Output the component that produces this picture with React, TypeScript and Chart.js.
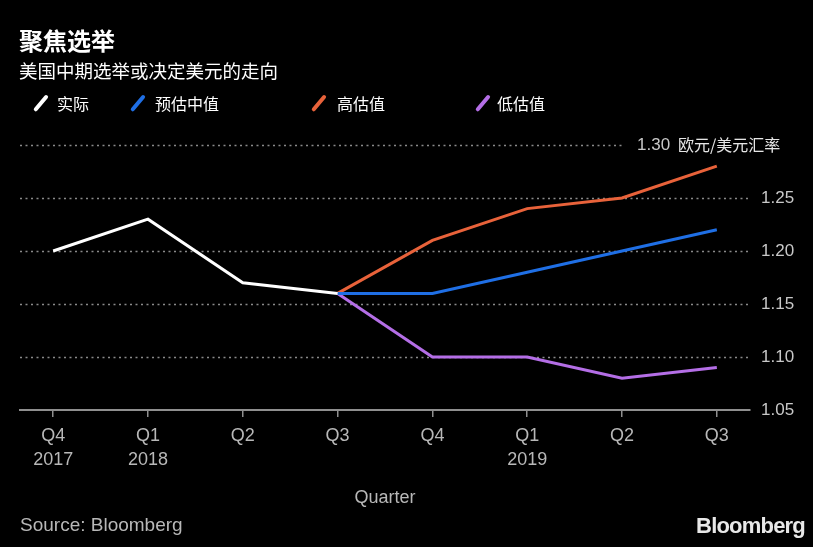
import React, { useEffect, useRef } from "react";
import { Chart, registerables } from "chart.js";
Chart.register(...registerables);

const quarters = [["Q4", "2017"], ["Q1", "2018"], ["Q2"], ["Q3"], ["Q4"], ["Q1", "2019"], ["Q2"], ["Q3"]];
const actual = [1.2, 1.23, 1.17, 1.16];
const median = [1.16, 1.16, 1.18, 1.2, 1.22];
const high = [1.16, 1.21, 1.24, 1.25, 1.28];
const low = [1.16, 1.1, 1.1, 1.08, 1.09];
const forecastStart = 3;
const yTicks = [1.05, 1.1, 1.15, 1.2, 1.25, 1.3];

const C_WHITE = "#ffffff";
const C_BLUE = "#1f6fe5";
const C_ORANGE = "#e8623a";
const C_PURPLE = "#b46ee6";
const NUM_FONT = "'Liberation Sans', Arial, sans-serif";
const CJK = "'Noto Sans CJK SC', sans-serif";

const pts = (arr: number[], start: number) => arr.map((v, i) => ({ x: start + i, y: v }));

const gridPlugin = {
  id: "dottedGrid",
  beforeDatasetsDraw(chart: any) {
    const { ctx, chartArea, scales } = chart;
    const y = scales.y;
    ctx.save();
    ctx.strokeStyle = "#8a8a8a";
    ctx.lineWidth = 1.5;
    ctx.setLineDash([2, 3.5]);
    yTicks.forEach((v) => {
      if (v === 1.05) return;
      const py = Math.round(y.getPixelForValue(v)) + 0.5;
      const right = v === 1.3 ? 625 : chartArea.right;
      ctx.beginPath();
      ctx.moveTo(chartArea.left, py);
      ctx.lineTo(right, py);
      ctx.stroke();
    });
    ctx.setLineDash([]);
    const top = y.getPixelForValue(1.3);
    ctx.fillStyle = "#c8c8c8";
    ctx.textBaseline = "middle";
    ctx.font = `17px ${NUM_FONT}`;
    ctx.fillText("1.30", 637, top);
    ctx.font = `16px ${CJK}`;
    ctx.fillStyle = "#e6e6e6";
    ctx.fillText("欧元/美元汇率", 678, top);
    ctx.restore();
  },
};

function LegendItem({ color, label, left, textLeft }: { color: string; label: string; left: number; textLeft: number }) {
  return (
    <>
      <div style={{ position: "absolute", left: left + 5, top: 93, width: 3.5, height: 20, background: color, transform: "rotate(40deg)", borderRadius: 2 }} />
      <div style={{ position: "absolute", left: textLeft, top: 91, color: "#fff", fontFamily: CJK, fontSize: 16, lineHeight: "24px" }}>{label}</div>
    </>
  );
}

export default function App() {
  const ref = useRef<HTMLCanvasElement>(null);
  useEffect(() => {
    const chart = new Chart(ref.current!, {
      type: "line",
      data: {
        datasets: [
          { label: "实际", data: pts(actual, 0), borderColor: C_WHITE },
          { label: "预估中值", data: pts(median, forecastStart), borderColor: C_BLUE },
          { label: "高估值", data: pts(high, forecastStart), borderColor: C_ORANGE },
          { label: "低估值", data: pts(low, forecastStart), borderColor: C_PURPLE },
        ].map((d) => ({ ...d, borderWidth: 3, pointRadius: 0, tension: 0, fill: false })),
      },
      options: {
        animation: false,
        responsive: false,
        maintainAspectRatio: false,
        layout: { padding: { left: 20, top: 145, right: 0, bottom: 38 } },
        plugins: { legend: { display: false }, tooltip: { enabled: false } },
        scales: {
          x: {
            type: "linear",
            min: -0.35,
            max: 7.35,
            afterBuildTicks: (s: any) => {
              s.ticks = quarters.map((_, i) => ({ value: i }));
            },
            afterFit: (s: any) => {
              s.height = 547 - 38 - 410;
            },
            border: { display: true, color: "#8f8f8f", width: 2 },
            grid: { drawOnChartArea: false, color: "#8f8f8f", lineWidth: 1.5, tickLength: 7 },
            ticks: {
              color: "#b8b8b8",
              font: { family: NUM_FONT, size: 18, lineHeight: 1.35 },
              padding: 7,
              maxRotation: 0,
              callback: (v: any) => quarters[v] ?? "",
            },
            title: {
              display: true,
              text: "Quarter",
              color: "#b8b8b8",
              font: { family: NUM_FONT, size: 18 },
              padding: { top: 10, bottom: 0 },
            },
          },
          y: {
            position: "right",
            min: 1.05,
            max: 1.3,
            afterBuildTicks: (s: any) => {
              s.ticks = yTicks.map((v) => ({ value: v }));
            },
            afterFit: (s: any) => {
              s.width = 813 - 750;
            },
            border: { display: false },
            grid: { display: false, drawTicks: false },
            ticks: {
              color: "#c8c8c8",
              padding: 11,
              font: { family: NUM_FONT, size: 17 },
              callback: (v: any) => (v === 1.3 ? "" : Number(v).toFixed(2)),
            },
          },
        },
      },
      plugins: [gridPlugin],
    } as any);
    return () => chart.destroy();
  }, []);

  return (
    <div style={{ position: "fixed", left: 0, top: 0, width: 813, height: 547, background: "#000", overflow: "hidden" }}>
      <canvas ref={ref} width={813} height={547} style={{ position: "absolute", left: 0, top: 0 }} />
      <div style={{ position: "absolute", left: 19, top: 24, color: "#fff", fontFamily: CJK, fontWeight: 700, fontSize: 24, lineHeight: "32px" }}>聚焦选举</div>
      <div style={{ position: "absolute", left: 19, top: 57, color: "#fff", fontFamily: CJK, fontSize: 18.5, lineHeight: "26px" }}>美国中期选举或决定美元的走向</div>
      <LegendItem color={C_WHITE} label="实际" left={34} textLeft={57} />
      <LegendItem color={C_BLUE} label="预估中值" left={131} textLeft={155} />
      <LegendItem color={C_ORANGE} label="高估值" left={312} textLeft={337} />
      <LegendItem color={C_PURPLE} label="低估值" left={476} textLeft={497} />
      <div style={{ position: "absolute", left: 20, top: 513, color: "#b8b8b8", fontFamily: NUM_FONT, fontSize: 19, lineHeight: "24px" }}>Source: Bloomberg</div>
      <div style={{ position: "absolute", right: 8, top: 513, color: "#e8e8e8", fontFamily: NUM_FONT, fontWeight: 700, fontSize: 22, lineHeight: "26px", letterSpacing: -0.8 }}>Bloomberg</div>
    </div>
  );
}
